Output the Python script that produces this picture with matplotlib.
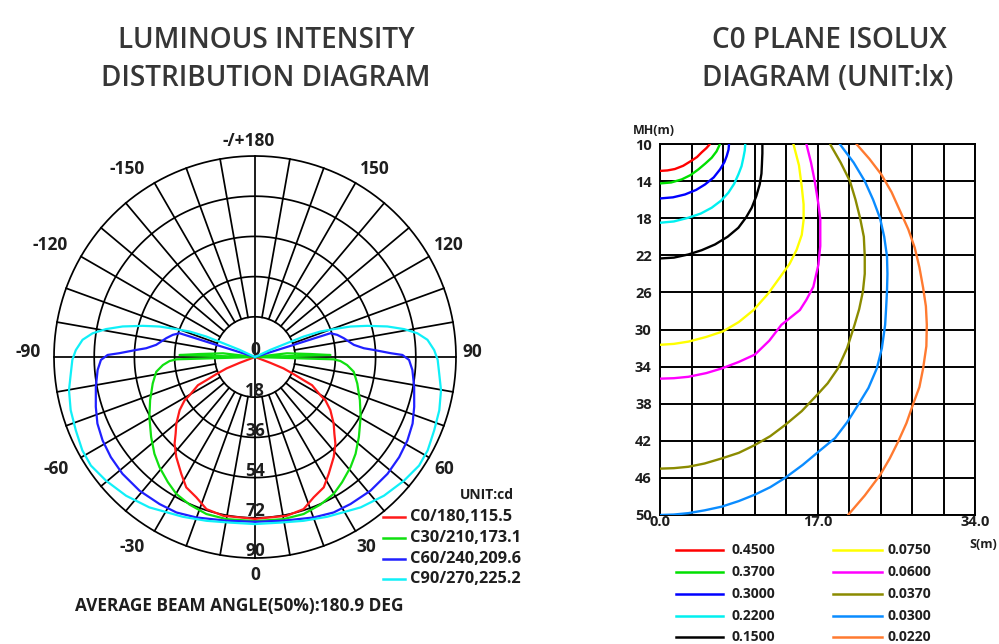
import numpy as np
import matplotlib
matplotlib.use("Agg")
import matplotlib.pyplot as plt
from matplotlib.lines import Line2D
from matplotlib.transforms import offset_copy

plt.rcParams['font.family'] = ['Open Sans', 'DejaVu Sans']

W, H = 999, 644

# ---------------- Polar data (angle from nadir in degrees, intensity in chart units 0-90) ----------------
c0_angles = [0, 11.3, 17.7, 22.7, 27.8, 32.2, 38.2, 42.8, 46.0, 49.7, 54.8, 58.4, 59.7, 63.7, 64.5, 66.1, 68.2, 69.2, 70]
c0_values = [72.5, 72.5, 71.5, 68.1, 66.0, 61.9, 57.0, 53.0, 49.4, 46.2, 41.3, 37.0, 33.9, 28.5, 24.1, 18.9, 13.7, 7.2, 0]

c30_angles = [0, 10.0, 17.2, 23.9, 29.9, 34.8, 40.9, 46.1, 52.4, 60.4, 67.6, 75.5, 81.5, 85.0, 87.3, 88.3, 90,
              91.5, 93.1, 96.6, 100]
c30_values = [73.5, 73.7, 73.6, 72.3, 70.7, 68.3, 65.3, 62.5, 58.7, 54.4, 50.8, 47.3, 44.7, 41.4, 38.3, 35.2, 0,
              33.8, 24.8, 14.4, 0]

c60_angles = [0, 9.9, 20.1, 26.8, 33.0, 40.8, 48.6, 55.2, 61.3, 67.1, 72.6, 79.4, 85.3, 88.9, 90.8, 91.6, 93.4,
              94.6, 97.0, 102.0, 105.1, 107.5, 107.4, 108]
c60_values = [73.8, 74.4, 76.5, 78.0, 78.5, 79.1, 79.1, 78.6, 77.8, 76.6, 74.7, 72.5, 70.7, 69.0, 66.0, 60.8, 53.3,
              48.9, 44.6, 40.6, 38.1, 35.4, 18.1, 0]

c90_angles = [0, 8.6, 16.5, 24.3, 35.1, 42.9, 50.3, 56.5, 61.6, 67.7, 73.9, 79.9, 84.9, 89.1, 92.2, 95.7, 98.3,
              100.6, 103.0, 105.5, 107.7, 109.5, 111.3, 112.8, 113.4, 115.0, 116]
c90_values = [74.8, 75.0, 76.5, 78.5, 82.3, 84.8, 86.7, 88.1, 87.9, 86.7, 85.9, 84.6, 82.8, 81.8, 80.3, 77.6, 73.5,
              67.9, 60.8, 52.2, 44.9, 37.4, 31.4, 23.6, 15.5, 7.5, 0]

polar_labels = ["C0/180,115.5", "C30/210,173.1", "C60/240,209.6", "C90/270,225.2"]
polar_colors = ["#ff1a1a", "#10e010", "#2020ff", "#10f0f8"]
ring_values = [18, 36, 54, 72, 90]
ring_labels = ["0", "18", "36", "54", "72", "90"]
angle_ticks = [0, 30, 60, 90, 120, 150, 180, -150, -120, -90, -60, -30]
angle_tick_labels = ["0", "30", "60", "90", "120", "150", "-/+180", "-150", "-120", "-90", "-60", "-30"]

# ---------------- Isolux data (S in m, MH in m) ----------------
iso_levels = ["0.4500", "0.3700", "0.3000", "0.2200", "0.1500",
              "0.0750", "0.0600", "0.0370", "0.0300", "0.0220"]
iso_colors = ["#ff0000", "#00e000", "#0000ff", "#00f0f0", "#000000",
              "#ffff00", "#ff00ff", "#8b8b00", "#0a8cff", "#ff7a30"]
red_s = [0, 0.8, 1.6, 2.5, 3.4, 4.0, 4.5, 5.0, 5.4]
red_mh = [12.9, 12.85, 12.7, 12.35, 11.8, 11.4, 10.9, 10.45, 10.0]
green_s = [0, 1.2, 2.34, 3.3, 4.14, 4.9, 5.58, 6.1, 6.48]
green_mh = [14.25, 14.15, 13.82, 13.35, 12.74, 12.1, 11.48, 10.8, 10.0]
blue_s = [0, 1.4, 2.7, 3.9, 4.86, 5.8, 6.48, 6.95, 7.2, 7.4, 7.45]
blue_mh = [15.87, 15.75, 15.44, 14.95, 14.36, 13.6, 12.74, 11.95, 11.3, 10.6, 10.0]
cyan_s = [0, 1.5, 3.06, 4.4, 5.58, 6.6, 7.38, 8.0, 8.46, 8.8, 9.0, 9.15, 9.2]
cyan_mh = [18.49, 18.35, 17.95, 17.5, 16.87, 16.1, 15.25, 14.3, 13.28, 12.4, 11.48, 10.7, 10.0]
black_s = [0, 1.5, 3.06, 4.5, 5.94, 7.3, 8.46, 9.3, 9.9, 10.4, 10.76, 10.95, 11.0, 11.05, 11.05]
black_mh = [22.34, 22.25, 21.91, 21.45, 20.83, 20.0, 19.03, 17.9, 16.87, 15.6, 14.36, 13.2, 12.2, 11.0, 10.0]
yellow_s = [0, 1.5, 3.1, 5.0, 6.8, 8.5, 10.1, 11.7, 13.0, 14.0, 14.75, 15.3, 15.5, 15.5, 15.3, 15.0, 14.4]
yellow_mh = [31.65, 31.55, 31.3, 30.8, 30.2, 29.2, 27.9, 26.1, 24.3, 22.9, 21.4, 19.8, 18.2, 16.5, 14.6, 12.3, 10.0]
magenta_s = [0, 1.5, 3.06, 5.0, 6.66, 8.5, 10.25, 11.8, 13.1, 15.1, 15.8, 16.55, 17.1, 17.3, 17.3, 17.1, 16.7,
             16.3, 15.8]
magenta_mh = [35.3, 35.25, 35.1, 34.7, 34.2, 33.5, 32.7, 31.2, 29.5, 27.9, 26.8, 25.4, 23.0, 21.0, 18.1, 16.5, 14.0,
              12.0, 10.0]
olive_s = [0, 1.5, 3.06, 4.8, 6.66, 8.5, 10.25, 11.9, 13.5, 15.3, 17.0, 18.1, 19.2, 20.2, 21.0, 21.5, 21.9, 22.1,
           22.1, 22.0, 21.6, 21.1, 20.5, 19.5, 18.35]
olive_mh = [45.0, 44.95, 44.8, 44.45, 43.9, 43.3, 42.45, 41.5, 40.3, 38.8, 37.0, 35.8, 34.2, 32.0, 29.5, 27.8, 25.9,
            24.0, 22.1, 20.0, 18.0, 16.0, 14.0, 12.0, 10.0]
dblue_s = [0, 1.5, 3.06, 4.8, 6.66, 8.5, 10.25, 11.9, 13.5, 15.4, 17.2, 18.9, 20.2, 21.4, 22.5, 23.4, 23.95, 24.3,
           24.4, 24.5, 24.55, 24.5, 24.2, 23.75, 23.0, 22.1, 20.9, 19.4]
dblue_mh = [50.0, 49.95, 49.8, 49.5, 49.1, 48.5, 47.8, 47.0, 46.0, 44.6, 43.1, 41.7, 40.0, 38.1, 36.3, 34.2, 32.0,
            29.5, 27.8, 25.9, 24.0, 22.1, 20.0, 18.0, 16.0, 14.0, 12.0, 10.0]
orange_s = [20.3, 22.1, 23.75, 24.8, 25.7, 26.6, 27.3, 28.0, 28.4, 28.75, 28.8, 28.7, 28.4, 28.0, 27.5, 26.8, 25.9,
            25.0, 23.9, 22.6, 21.2]
orange_mh = [50.0, 47.9, 45.7, 43.9, 42.1, 40.1, 38.1, 36.2, 34.2, 31.8, 29.5, 27.5, 25.5, 23.3, 21.2, 19.2, 17.2,
             15.2, 13.3, 11.6, 10.0]
iso_s = [red_s, green_s, blue_s, cyan_s, black_s, yellow_s, magenta_s, olive_s, dblue_s, orange_s]
iso_mh = [red_mh, green_mh, blue_mh, cyan_mh, black_mh, yellow_mh, magenta_mh, olive_mh, dblue_mh, orange_mh]
x_tick_labels = ["0.0", "17.0", "34.0"]
y_tick_values = [10, 14, 18, 22, 26, 30, 34, 38, 42, 46, 50]

fig = plt.figure(figsize=(W / 100, H / 100), dpi=100)
fig.patch.set_facecolor("white")

def fx(x):
    return x / W

def fy(y):
    return 1 - y / H

title_color = "#363636"
tkw = dict(ha="center", va="center", fontsize=20.1, color=title_color, fontweight=600)
fig.text(fx(266), fy(40), "LUMINOUS INTENSITY", **tkw)
fig.text(fx(266), fy(78), "DISTRIBUTION DIAGRAM", **tkw)
fig.text(fx(829), fy(40), "C0 PLANE ISOLUX", **tkw)
fig.text(fx(828), fy(78), "DIAGRAM (UNIT:lx)", **tkw)

txt_color = "#1e1e1e"

# ---------------- Polar chart ----------------
cx, cy, R = 255, 357, 201
ax = fig.add_axes([fx(cx - R), fy(cy + R), 2 * R / W, 2 * R / H], projection="polar")
ax.set_theta_zero_location("S")
ax.set_theta_direction(1)
ax.set_ylim(0, 90)
ax.set_xticks([])
ax.set_yticks([])
ax.grid(False)
ax.spines["polar"].set_visible(False)
ax.patch.set_alpha(0)

grid_kw = dict(color="black", lw=1.25, clip_on=False, zorder=1)
tt = np.linspace(0, 2 * np.pi, 500)
for r in ring_values:
    ax.plot(tt, np.full_like(tt, r), **grid_kw)
for a in range(0, 360, 10):
    th = np.deg2rad(a)
    if a % 90 == 0:
        ax.plot([th, th], [0, 90], **grid_kw)
    else:
        ax.plot([th, th], [18, 90], **grid_kw)

for angs, vals, col in zip([c0_angles, c30_angles, c60_angles, c90_angles],
                           [c0_values, c30_values, c60_values, c90_values], polar_colors):
    a = np.deg2rad(np.array(angs))
    v = np.array(vals)
    ax.plot(a, v, color=col, lw=1.6, zorder=3, clip_on=False)
    ax.plot(-a, v, color=col, lw=1.6, zorder=3, clip_on=False)

ring_pos = [0] + ring_values
for r, lab in zip(ring_pos, ring_labels):
    if r == 0:
        ax.text(np.pi, 3.2, lab, ha="center", va="center", fontsize=12.5, fontweight="bold",
                color=txt_color, zorder=4)
    else:
        ax.text(0, r - 3.0, lab, ha="center", va="center", fontsize=12.5, fontweight="bold",
                color=txt_color, zorder=4)

# label nudges in pixels (dx right, dy up)
label_nudge = {"0": (0, -2), "30": (0, 3), "60": (-4, 0), "90": (0, 5), "120": (0, 0), "150": (8, -5),
               "-/+180": (-6, 0), "-150": (-16, -5), "-120": (-11, 0), "-90": (-10, 5), "-60": (-5, 0),
               "-30": (-11, 3)}
for a, lab in zip(angle_ticks, angle_tick_labels):
    if abs(a) in (0, 180):
        rr = 96.8
    elif abs(a) == 90:
        rr = 97.2
    else:
        rr = 100
    dx, dy = label_nudge[lab]
    tr = offset_copy(ax.transData, fig=fig, x=dx, y=dy, units="dots")
    ax.text(np.deg2rad(a), rr, lab, ha="center", va="center", fontsize=12.5, fontweight="bold",
            color=txt_color, transform=tr)

# polar legend
fig.text(fx(514), fy(495), "UNIT:cd", ha="right", va="center", fontsize=10, fontweight="bold", color=txt_color)
for i, (lab, col) in enumerate(zip(polar_labels, polar_colors)):
    yy = [517, 538, 559, 579][i]
    fig.add_artist(Line2D([fx(383), fx(405)], [fy(yy), fy(yy)], color=col, lw=1.8))
    fig.text(fx(410), fy(yy), lab, ha="left", va="center", fontsize=11.8, fontweight="bold", color=txt_color)

fig.text(fx(75), fy(606), "AVERAGE BEAM ANGLE(50%):180.9 DEG", ha="left", va="center",
         fontsize=12.4, fontweight="bold", color=txt_color)

# ---------------- Isolux chart ----------------
x0, x1, y0, y1 = 660, 975, 144, 515
ax2 = fig.add_axes([fx(x0), fy(y1), (x1 - x0) / W, (y1 - y0) / H])
ax2.set_xlim(0, 34)
ax2.set_ylim(50, 10)
xt = np.linspace(0, 34, 11)
ax2.set_xticks(xt)
ax2.set_xticklabels([x_tick_labels[0]] + [""] * 4 + [x_tick_labels[1]] + [""] * 4 + [x_tick_labels[2]])
ax2.set_yticks(y_tick_values)
ax2.set_yticklabels([str(v) for v in y_tick_values])
ax2.tick_params(length=0, labelsize=10.5, pad=0, colors=txt_color)
ax2.tick_params(axis="y", pad=6)
for lab in ax2.get_xticklabels() + ax2.get_yticklabels():
    lab.set_fontweight("bold")
ax2.grid(True, color="black", lw=1.4)
for sp in ax2.spines.values():
    sp.set_color("black")
    sp.set_linewidth(1.4)

for s, mh, col in zip(iso_s, iso_mh, iso_colors):
    ax2.plot(s, mh, color=col, lw=1.7, zorder=3, solid_capstyle="round")

fig.text(fx(654), fy(130), "MH(m)", ha="center", va="center", fontsize=9, fontweight="bold", color=txt_color)
fig.text(fx(997), fy(545), "S(m)", ha="right", va="center", fontsize=9, fontweight="bold", color=txt_color)

# isolux legend
rows = [550, 572, 594, 616, 637]
for i, (lab, col) in enumerate(zip(iso_levels, iso_colors)):
    c = i // 5
    yy = rows[i % 5]
    lx0, lx1, tx = (676, 723, 732) if c == 0 else (833, 882, 888)
    fig.add_artist(Line2D([fx(lx0), fx(lx1)], [fy(yy), fy(yy)], color=col, lw=1.8))
    fig.text(fx(tx), fy(yy), lab, ha="left", va="center", fontsize=10, fontweight="bold", color=txt_color)

fig.savefig("out.png", dpi=100, facecolor="white")
